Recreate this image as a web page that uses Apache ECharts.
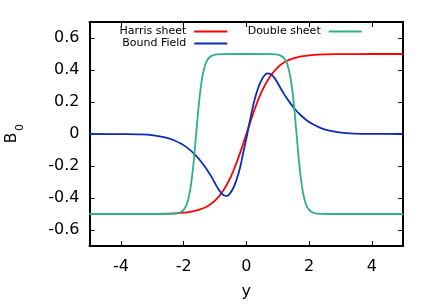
<!DOCTYPE html>
<html>
<head>
<meta charset="utf-8">
<script src="https://cdn.jsdelivr.net/npm/echarts@6/dist/echarts.min.js"></script>
<style>
html,body{margin:0;padding:0;background:#fff;}
#chart{width:436px;height:305px;}
</style>
</head>
<body>
<div id="chart"></div>
<script>
// ---- data ----
var seriesNames = ['Harris sheet', 'Bound Field', 'Double sheet'];

var harrisX = [-5, -4, -3, -2.5, -2, -1.75, -1.5, -1.25, -1, -0.75, -0.5, -0.25, 0, 0.25, 0.5, 0.75, 1, 1.25, 1.5, 1.75, 2, 2.5, 3, 4, 5];
var harrisY = [-0.5, -0.5, -0.499, -0.498, -0.492, -0.485, -0.473, -0.453, -0.417, -0.358, -0.269, -0.146, 0, 0.146, 0.269, 0.358, 0.417, 0.453, 0.473, 0.485, 0.492, 0.498, 0.499, 0.5, 0.5];

var boundX = [-5, -3.96, -3.46, -2.96, -2.56, -2.31, -2.06, -1.86, -1.66, -1.51, -1.36, -1.22, -1.12, -1.02, -0.92, -0.82, -0.72, -0.62, -0.52, -0.42, -0.31, -0.2, -0.08, 0.03,
              0.13, 0.25, 0.36, 0.47, 0.57, 0.67, 0.77, 0.87, 0.97, 1.07, 1.17, 1.27, 1.41, 1.56, 1.71, 1.91, 2.11, 2.36, 2.61, 3.01, 3.51, 4.01, 5];
var boundY = [0, -0.0005, -0.002, -0.008, -0.022, -0.039, -0.063, -0.09, -0.124, -0.156, -0.194, -0.234, -0.265, -0.3, -0.335, -0.364, -0.383, -0.387, -0.371, -0.339, -0.284, -0.209, -0.1, 0,
              0.098, 0.205, 0.278, 0.332, 0.364, 0.379, 0.375, 0.357, 0.328, 0.294, 0.26, 0.229, 0.19, 0.153, 0.122, 0.088, 0.062, 0.038, 0.022, 0.008, 0.002, 0.0005, 0];

var doubleX = [-5, -3, -2.6, -2.4, -2.2, -2.1, -2, -1.9, -1.8, -1.7, -1.6, -1.5, -1.4, -1.3, -1.2, -1.1, -1, -0.8, 0, 0.8, 1, 1.1, 1.2, 1.3, 1.4, 1.5, 1.6, 1.7, 1.8, 1.9, 2, 2.1, 2.2, 2.4, 2.6, 3, 5];
var doubleY = [-0.5, -0.5, -0.5, -0.499, -0.496, -0.489, -0.474, -0.439, -0.36, -0.213, 0, 0.213, 0.36, 0.439, 0.474, 0.489, 0.496, 0.499, 0.5, 0.499, 0.496, 0.489, 0.474, 0.439, 0.36, 0.213, 0, -0.213, -0.36, -0.439, -0.474, -0.489, -0.496, -0.499, -0.5, -0.5, -0.5];

var xTicks = [-4, -2, 0, 2, 4];
var yTicks = [-0.6, -0.4, -0.2, 0, 0.2, 0.4, 0.6];
var xTickLabels = ['-4', '-2', '0', '2', '4'];
var yTickLabels = ['-0.6', '-0.4', '-0.2', '0', '0.2', '0.4', '0.6'];
var xName = 'y';
var yNameMain = 'B';
var yNameSub = '0';

// ---- build ----
function pairs(xs, ys) { return xs.map(function (x, i) { return [x, ys[i]]; }); }
var FONT = '"DejaVu Sans", sans-serif';
var colors = ['#ff0000', '#0a2db8', '#2bb089'];

function xLab(v) { var i = xTicks.indexOf(v); return i >= 0 ? xTickLabels[i] : ''; }
function yLab(v) {
  for (var i = 0; i < yTicks.length; i++) if (Math.abs(yTicks[i] - v) < 1e-9) return yTickLabels[i];
  return '';
}

var axisLine = { show: true, onZero: false, lineStyle: { color: '#000', width: 2 } };

function legend(name, right, top) {
  return {
    data: [{ name: name, icon: 'rect' }], right: right, top: top, orient: 'horizontal', align: 'right',
    itemWidth: 33, itemHeight: 2, padding: 0, selectedMode: false,
    textStyle: { fontFamily: FONT, fontSize: 11, color: '#000', padding: [0, 3, 0, 0] }
  };
}

var chart = echarts.init(document.getElementById('chart'), null, { renderer: 'canvas' });
chart.setOption({
  animation: false,
  backgroundColor: '#fff',
  grid: { left: 89.5, right: 32.8, top: 22, bottom: 59, containLabel: false },
  legend: [
    legend(seriesNames[0], 208.7, 26),
    legend(seriesNames[1], 208.7, 38),
    legend(seriesNames[2], 74.3, 26)
  ],
  xAxis: [{
    type: 'value', min: -5, max: 5, position: 'bottom',
    name: xName, nameLocation: 'middle', nameGap: 38,
    nameTextStyle: { fontFamily: FONT, fontSize: 16, color: '#000' },
    axisLine: axisLine,
    axisTick: { show: true, inside: true, length: 5, customValues: xTicks, lineStyle: { color: '#000', width: 1 } },
    axisLabel: { show: true, customValues: xTicks, margin: 13, fontFamily: FONT, fontSize: 16, color: '#000', formatter: xLab },
    splitLine: { show: false }
  }, {
    type: 'value', min: -5, max: 5, position: 'top',
    axisLine: axisLine,
    axisTick: { show: true, inside: true, length: 5, customValues: xTicks, lineStyle: { color: '#000', width: 1 } },
    axisLabel: { show: false },
    splitLine: { show: false }
  }],
  yAxis: [{
    type: 'value', min: -0.7, max: 0.7, position: 'left',
    axisLine: axisLine,
    axisTick: { show: true, inside: true, length: 5, customValues: yTicks, lineStyle: { color: '#000', width: 1 } },
    axisLabel: { show: true, customValues: yTicks, margin: 10, fontFamily: FONT, fontSize: 16, color: '#000', formatter: yLab },
    splitLine: { show: false }
  }, {
    type: 'value', min: -0.7, max: 0.7, position: 'right',
    axisLine: axisLine,
    axisTick: { show: true, inside: true, length: 5, customValues: yTicks, lineStyle: { color: '#000', width: 1 } },
    axisLabel: { show: false },
    splitLine: { show: false }
  }],
  graphic: [
    { type: 'text', x: 12, y: 138, rotation: Math.PI / 2, silent: true,
      style: { text: yNameMain, fontFamily: FONT, fontSize: 15.5, fill: '#000', textAlign: 'center', textVerticalAlign: 'middle' } },
    { type: 'text', x: 20.5, y: 127.5, rotation: Math.PI / 2, silent: true,
      style: { text: yNameSub, fontFamily: FONT, fontSize: 11, fill: '#000', textAlign: 'center', textVerticalAlign: 'middle' } }
  ],
  series: [
    { name: seriesNames[0], type: 'line', xAxisIndex: 0, yAxisIndex: 0, data: pairs(harrisX, harrisY),
      symbol: 'none', smooth: 0.4, color: colors[0], lineStyle: { color: colors[0], width: 1.8 } },
    { name: seriesNames[1], type: 'line', xAxisIndex: 0, yAxisIndex: 0, data: pairs(boundX, boundY),
      symbol: 'none', smooth: 0.4, color: colors[1], lineStyle: { color: colors[1], width: 1.8 } },
    { name: seriesNames[2], type: 'line', xAxisIndex: 0, yAxisIndex: 0, data: pairs(doubleX, doubleY),
      symbol: 'none', smooth: 0.4, color: colors[2], lineStyle: { color: colors[2], width: 1.8 } }
  ]
});
</script>
</body>
</html>
